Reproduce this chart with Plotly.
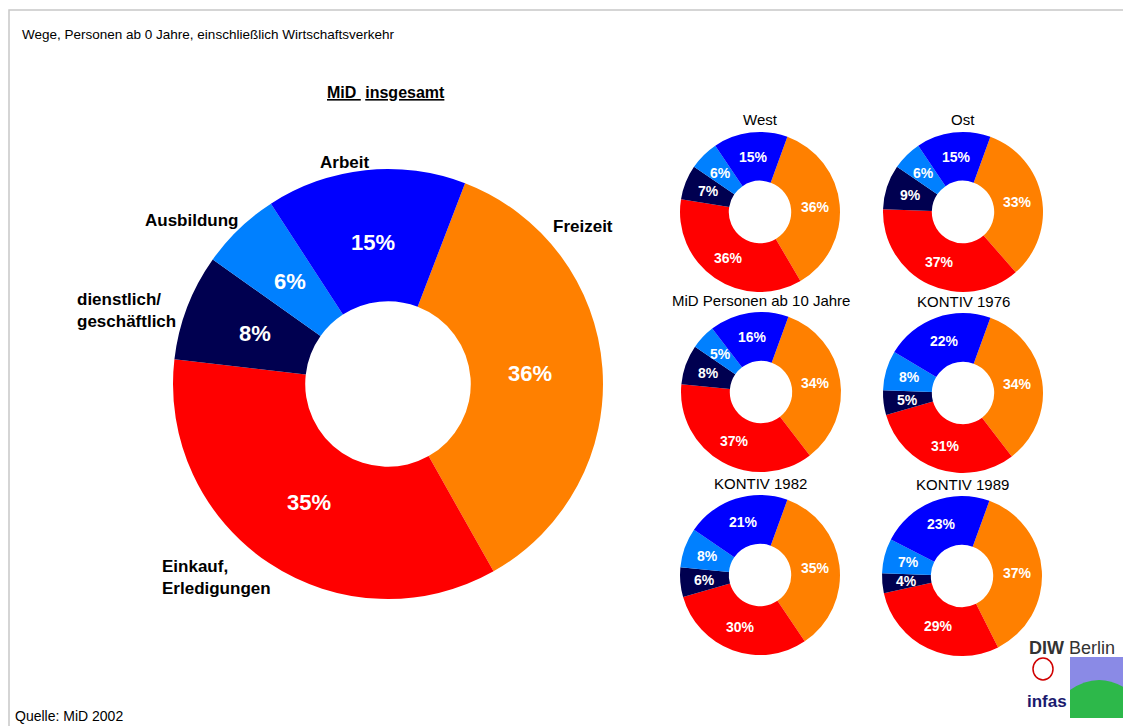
import math
import plotly.graph_objects as go

# The page draws the figure 8px in from the window's corner
OFF = 8
W, H = 1131 - OFF, 726 - OFF

# Data (order: Freizeit, Einkauf, dienstlich, Ausbildung, Arbeit — clockwise)
categories = ["Freizeit", "Einkauf, Erledigungen", "dienstlich/geschäftlich", "Ausbildung", "Arbeit"]
colors = ["#FF8000", "#FF0000", "#000050", "#0080FF", "#0000FF"]

mid_total = [36, 35, 8, 6, 15]
west = [36, 36, 7, 6, 15]
ost = [33, 37, 9, 6, 15]
mid_ab10 = [34, 37, 8, 5, 16]
kontiv_1976 = [34, 31, 5, 8, 22]
kontiv_1982 = [35, 30, 6, 8, 21]
kontiv_1989 = [37, 29, 4, 7, 23]

small_titles = ["West", "Ost", "MiD Personen ab 10 Jahre", "KONTIV 1976", "KONTIV 1982", "KONTIV 1989"]
small_values = [west, ost, mid_ab10, kontiv_1976, kontiv_1982, kontiv_1989]

FONT = "Liberation Sans, Arial, sans-serif"


def px(x, y):
    """reference-window pixel -> paper coords"""
    return (x - OFF) / W, 1 - (y - OFF) / H


def domain(cx, cy, r):
    x0, y0 = px(cx - r, cy + r)
    x1, y1 = px(cx + r, cy - r)
    return dict(x=[x0, x1], y=[y0, y1])


fig = go.Figure()
annots = []


def add_donut(vals, cx, cy, r, hole, rot, label_r, fsize):
    fig.add_trace(go.Pie(
        labels=categories, values=vals, sort=False, direction="clockwise",
        rotation=rot, hole=hole, domain=domain(cx, cy, r),
        marker=dict(colors=colors, line=dict(width=0)),
        textinfo="none", showlegend=False, hoverinfo="label+value",
    ))
    # percentage labels placed in the middle of each ring segment (derived from values)
    total = sum(vals)
    start = rot
    for v in vals:
        a = math.radians(start + 180.0 * v / total)
        lx, ly = px(cx + label_r * math.sin(a), cy - label_r * math.cos(a))
        annots.append(dict(x=lx, y=ly, text=f"{v}%", showarrow=False, xanchor="center", yanchor="middle",
                           font=dict(family=FONT, size=fsize, color="white", weight="bold")))
        start += 360.0 * v / total


# Big donut
add_donut(mid_total, 388, 384, 215, 0.385, 21, 142, 22)

# Small donuts
SMALL_R, SMALL_HOLE, SMALL_ROT = 80, 0.39, 20
centers = [(760, 212), (963, 212), (761, 392), (963, 393), (760, 575), (962, 576)]
for (cx, cy), vals, title in zip(centers, small_values, small_titles):
    add_donut(vals, cx, cy, SMALL_R, SMALL_HOLE, SMALL_ROT, SMALL_R * (1 + SMALL_HOLE) / 2, 14)
    tx, ty = px(cx, cy - 92)
    annots.append(dict(x=tx, y=ty, text=title, showarrow=False, xanchor="center", yanchor="middle",
                       font=dict(family=FONT, size=15, color="black")))

texts = [
    dict(x=20, y=35, text="Wege, Personen ab 0 Jahre, einschließlich Wirtschaftsverkehr", xanchor="left", size=13.5, bold=False),
    dict(x=386, y=92, text="<u>MiD </u> <u>insgesamt</u>", xanchor="center", size=16, bold=True),
    dict(x=344, y=162, text="Arbeit", xanchor="center", size=17, bold=True),
    dict(x=551, y=226, text="Freizeit", xanchor="left", size=17, bold=True),
    dict(x=143, y=221, text="Ausbildung", xanchor="left", size=17, bold=True),
    dict(x=75, y=310, text="dienstlich/<br>geschäftlich", xanchor="left", size=17, bold=True),
    dict(x=160, y=577, text="Einkauf,<br>Erledigungen", xanchor="left", size=17, bold=True),
    dict(x=13, y=716, text="Quelle: MiD 2002", xanchor="left", size=14, bold=False),
]
for t in texts:
    ax, ay = px(t["x"], t["y"])
    annots.append(dict(x=ax, y=ay, text=t["text"], showarrow=False, xanchor=t["xanchor"], yanchor="middle",
                       align="left",
                       font=dict(family=FONT, size=t["size"], color="black",
                                 weight="bold" if t["bold"] else "normal")))

# Logo approximation
lx, ly = px(1027, 648)
annots.append(dict(x=lx, y=ly, showarrow=False, xanchor="left", yanchor="middle",
                   text="<b>DIW</b> Berlin", font=dict(family=FONT, size=18, color="#333333")))
lx, ly = px(1025, 701)
annots.append(dict(x=lx, y=ly, showarrow=False, xanchor="left", yanchor="middle",
                   text="<b>infas</b>", font=dict(family=FONT, size=17, color="#1a1a6e")))


def rect(x0, y0, x1, y1, **kw):
    a, b = px(x0, y1)
    c, d = px(x1, y0)
    return dict(type="rect", xref="paper", yref="paper", x0=a, y0=b, x1=c, y1=d, **kw)


g0 = px(1070, 718)
g1 = px(1070, 690)
g2 = px(1099, 670)
g3 = px(1128, 690)
g4 = px(1128, 718)
shapes = [
    rect(9, 10, 1140, 740, line=dict(color="#C8C8C8", width=1.5)),
    rect(1070, 657, 1128, 718, line=dict(width=0), fillcolor="#8A8AE6"),
    dict(type="path", xref="paper", yref="paper",
         path=f"M {g0[0]} {g0[1]} L {g1[0]} {g1[1]} Q {g2[0]} {g2[1]} {g3[0]} {g3[1]} L {g4[0]} {g4[1]} Z",
         line=dict(width=0), fillcolor="#2DB84A"),
]
c0 = px(1033, 680)
c1 = px(1053, 658)
shapes.append(dict(type="circle", xref="paper", yref="paper", x0=c0[0], y0=c0[1], x1=c1[0], y1=c1[1],
                   line=dict(color="#D00000", width=1.5), fillcolor="white"))

fig.update_layout(
    width=W, height=H, margin=dict(l=0, r=0, t=0, b=0),
    paper_bgcolor="white", plot_bgcolor="white",
    font=dict(family=FONT),
    annotations=annots, shapes=shapes,
)

fig.write_html("out.html")
